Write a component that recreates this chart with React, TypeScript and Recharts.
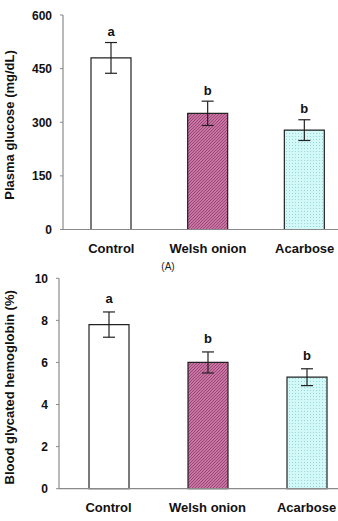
import React from "react";
import { BarChart, Bar, XAxis, YAxis, ErrorBar, Cell, LabelList, Label } from "recharts";

const groups = ["Control", "Welsh onion", "Acarbose"];
const glucoseMean = [480, 325, 278];
const glucoseErr = [43, 34, 29];
const glucoseLetters = ["a", "b", "b"];
const glucoseTicks = [0, 150, 300, 450, 600];

const hba1cMean = [7.8, 6.0, 5.3];
const hba1cErr = [0.6, 0.5, 0.4];
const hba1cLetters = ["a", "b", "b"];
const hba1cTicks = [0, 2, 4, 6, 8, 10];

const FONT = "'Liberation Sans', Arial, sans-serif";
const AXIS = "#8a8a8a";
const fills = ["#ffffff", "url(#onionHatch)", "url(#acarboseDots)"];

type Row = { name: string; mean: number; err: number; letter: string };

const build = (mean: number[], err: number[], letters: string[]): Row[] =>
  groups.map((name, i) => ({ name, mean: mean[i], err: err[i], letter: letters[i] }));

const glucoseData = build(glucoseMean, glucoseErr, glucoseLetters);
const hba1cData = build(hba1cMean, hba1cErr, hba1cLetters);

const Patterns = () => (
  <defs>
    <pattern id="onionHatch" width="3" height="3" patternUnits="userSpaceOnUse">
      <rect width="3" height="3" fill="#c873a2" />
      <rect x="0" y="2" width="1" height="1" fill="#9a4877" />
      <rect x="1" y="1" width="1" height="1" fill="#9a4877" />
      <rect x="2" y="0" width="1" height="1" fill="#9a4877" />
    </pattern>
    <pattern id="acarboseDots" width="3" height="3" patternUnits="userSpaceOnUse">
      <rect width="3" height="3" fill="#d3f8f8" />
      <rect x="1" y="1" width="1" height="1" fill="#9ad6d8" />
    </pattern>
  </defs>
);

const XTick = (props: any) => {
  const { x, y, payload } = props;
  return (
    <text x={x} y={y + 23} textAnchor="middle" fontFamily={FONT} fontWeight="bold" fontSize={13} fill="#111">
      {payload.value}
    </text>
  );
};

const YTick = (props: any) => {
  const { x, y, payload } = props;
  return (
    <text x={x} y={y + 4.5} textAnchor="end" fontFamily={FONT} fontWeight="bold" fontSize={12} fill="#111">
      {payload.value}
    </text>
  );
};

const letterContent = (rows: Row[], gap: number) => (props: any) => {
  const { x, y, width, height, index } = props;
  const row = rows[index];
  if (!row) return null;
  const perUnit = height / row.mean;
  const errTop = y - row.err * perUnit;
  return (
    <text x={x + width / 2} y={errTop - gap} textAnchor="middle" fontFamily={FONT} fontWeight="bold" fontSize={13} fill="#111">
      {row.letter}
    </text>
  );
};

const yTitle = (text: string, tx: number, shift: number) => (props: any) => {
  const vb = props.viewBox || {};
  const cy = vb.y + vb.height / 2 + shift;
  return (
    <text
      x={tx}
      y={cy}
      transform={`rotate(-90, ${tx}, ${cy})`}
      textAnchor="middle"
      fontFamily={FONT}
      fontWeight="bold"
      fontSize={13}
      fill="#111"
    >
      {text}
    </text>
  );
};

type PanelProps = {
  rows: Row[];
  ticks: number[];
  domainMax: number;
  title: string;
  width: number;
  height: number;
  margin: { top: number; right: number; left: number; bottom: number };
  yWidth: number;
  xHeight: number;
  titleX: number;
  titleShift: number;
  letterGap: number;
};

const Panel = (p: PanelProps) => (
  <BarChart width={p.width} height={p.height} data={p.rows} margin={p.margin} barCategoryGap={0}>
    <Patterns />
    <XAxis
      dataKey="name"
      height={p.xHeight}
      tickLine={false}
      tickSize={0}
      tickMargin={0}
      axisLine={{ stroke: AXIS, strokeWidth: 1.2 }}
      tick={<XTick />}
      interval={0}
    />
    <YAxis
      width={p.yWidth}
      domain={[0, p.domainMax]}
      ticks={p.ticks}
      tickSize={3}
      tickMargin={8}
      tickLine={{ stroke: AXIS }}
      axisLine={{ stroke: AXIS, strokeWidth: 1.2 }}
      tick={<YTick />}
      interval={0}
    >
      <Label content={yTitle(p.title, p.titleX, p.titleShift)} />
    </YAxis>
    <Bar dataKey="mean" barSize={40} stroke="#222" strokeWidth={1.2} isAnimationActive={false}>
      {p.rows.map((r, i) => (
        <Cell key={r.name} fill={fills[i]} />
      ))}
      <ErrorBar dataKey="err" width={6} stroke="#222" strokeWidth={1.2} direction="y" />
      <LabelList dataKey="letter" content={letterContent(p.rows, p.letterGap)} />
    </Bar>
  </BarChart>
);

export default function App() {
  return (
    <div style={{ position: "absolute", left: 0, top: 0, width: 338, height: 521, overflow: "hidden", background: "#fff" }}>
      <div style={{ position: "absolute", left: 0, top: 0 }}>
        <Panel
          rows={glucoseData}
          ticks={glucoseTicks}
          domainMax={600}
          title="Plasma glucose (mg/dL)"
          width={356}
          height={260}
          margin={{ top: 15, right: 3, left: 0, bottom: 0 }}
          yWidth={63}
          xHeight={30.5}
          titleX={14}
          titleShift={2.7}
          letterGap={6.5}
        />
      </div>
      <div
        style={{
          position: "absolute",
          left: 160,
          top: 261,
          width: 16,
          textAlign: "center",
          fontFamily: FONT,
          fontSize: 10,
          lineHeight: "12px",
          color: "#222",
        }}
      >
        (A)
      </div>
      <div style={{ position: "absolute", left: 0, top: 260 }}>
        <Panel
          rows={hba1cData}
          ticks={hba1cTicks}
          domainMax={10}
          title="Blood glycated hemoglobin (%)"
          width={360}
          height={261}
          margin={{ top: 18.3, right: 4, left: 0, bottom: 0 }}
          yWidth={59}
          xHeight={32.3}
          titleX={14}
          titleShift={3.8}
          letterGap={8.5}
        />
      </div>
    </div>
  );
}
